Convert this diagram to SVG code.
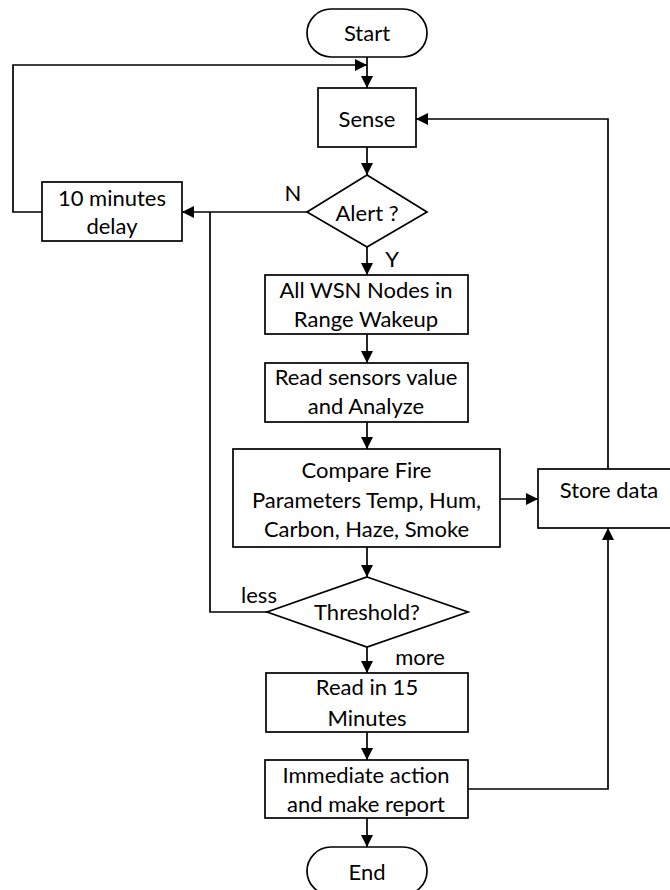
<svg xmlns="http://www.w3.org/2000/svg" width="670" height="890" viewBox="0 0 670 890">
<defs>
<marker id="arr" viewBox="0 0 12 12" refX="12" refY="6" markerWidth="12" markerHeight="12" markerUnits="userSpaceOnUse" orient="auto">
<path d="M0,0 L12,6 L0,12 Z" fill="#000"/>
</marker>
<style>
.s{fill:#fff;stroke:#000;stroke-width:1.7}
.c{fill:none;stroke:#000;stroke-width:1.7}
.a{marker-end:url(#arr)}
text{font-family:Lato,"Open Sans",sans-serif;font-size:22px;fill:#000;text-anchor:middle}
</style>
</defs>
<rect width="670" height="890" fill="#fff"/>
<g id="connectors">
<path class="c a" d="M367,57 V88"/>
<path class="c a" d="M42,212 H13 V65 H367"/>
<path class="c a" d="M367,147 V175"/>
<path class="c a" d="M307,212 H182"/>
<path class="c a" d="M367,247 V275"/>
<path class="c a" d="M367,334 V363"/>
<path class="c a" d="M367,422 V449"/>
<path class="c a" d="M500,499 H538"/>
<path class="c a" d="M367,547 V577"/>
<path class="c" d="M267,612 H210 V212"/>
<path class="c a" d="M367,647 V673"/>
<path class="c a" d="M367,732 V760"/>
<path class="c a" d="M367,818 V847"/>
<path class="c a" d="M468,789 H608 V528"/>
<path class="c a" d="M608,469 V119 H416"/>
</g>
<g id="start"><rect class="s" x="307" y="9" width="120" height="48" rx="24"/><text x="367" y="41">Start</text></g>
<g id="sense"><rect class="s" x="318" y="88" width="98" height="59"/><text x="367" y="127">Sense</text></g>
<g id="alert"><polygon class="s" points="367,175 427,212 367,247 307,212"/><text x="367" y="221">Alert ?</text></g>
<g id="label-n"><text x="293" y="201">N</text></g>
<g id="label-y"><text x="392" y="267">Y</text></g>
<g id="delay"><rect class="s" x="42" y="182" width="140" height="59"/><text x="112" y="206">10 minutes</text><text x="112" y="234">delay</text></g>
<g id="wakeup"><rect class="s" x="265" y="275" width="203" height="59"/><text x="366" y="298">All WSN Nodes in</text><text x="366" y="327">Range Wakeup</text></g>
<g id="read"><rect class="s" x="265" y="363" width="203" height="59"/><text x="366" y="385">Read sensors value</text><text x="366" y="414">and Analyze</text></g>
<g id="compare"><rect class="s" x="233" y="449" width="267" height="98"/><text x="366.5" y="478">Compare Fire</text><text x="366.5" y="508">Parameters Temp, Hum,</text><text x="366.5" y="537">Carbon, Haze, Smoke</text></g>
<g id="store"><rect class="s" x="538" y="469" width="142" height="59"/><text x="609" y="498">Store data</text></g>
<g id="threshold"><polygon class="s" points="367,577 468,612 367,647 267,612"/><text x="367" y="620">Threshold?</text></g>
<g id="label-less"><text x="259" y="603">less</text></g>
<g id="label-more"><text x="420" y="665">more</text></g>
<g id="read15"><rect class="s" x="266" y="673" width="202" height="59"/><text x="367" y="695">Read in 15</text><text x="367" y="726">Minutes</text></g>
<g id="action"><rect class="s" x="265" y="760" width="203" height="58"/><text x="366" y="783">Immediate action</text><text x="366" y="812">and make report</text></g>
<g id="end"><rect class="s" x="307" y="847" width="120" height="48" rx="24"/><text x="367" y="880">End</text></g>
</svg>
